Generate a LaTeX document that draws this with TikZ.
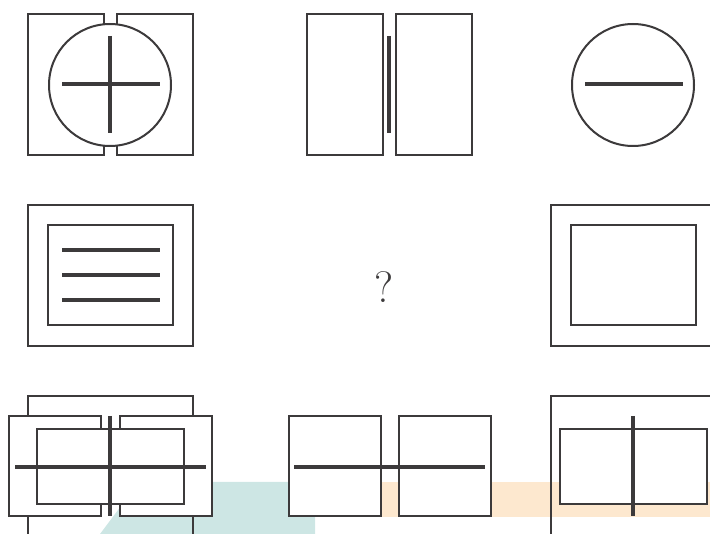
\documentclass[tikz,border=0pt]{standalone}
\usepackage{tikz}
\definecolor{pzline}{HTML}{3C3A3B}
\definecolor{pzteal}{HTML}{CDE6E4}
\definecolor{pzpeach}{HTML}{FDE8CF}

\begin{document}
\begin{tikzpicture}[
  x=1pt, y=-1pt,
  frame/.style={draw=pzline, line width=2pt},
  blank/.style={frame, fill=white},
  bar/.style={draw=pzline, line width=3.2pt},
  query/.style={text=pzline, inner sep=0pt, font=\fontsize{44}{50}\selectfont},
]
\useasboundingbox (0,0) rectangle (710,534);
\clip (0,0) rectangle (710,534);

%% ---- Bandas de fondo ----
\fill[pzteal] (100,534) -- (139,482) -- (315,482) -- (315,534) -- cycle;
\fill[pzpeach] (320,482) rectangle (714,517);

%% ---- Fila 1 ----
\draw[frame] (28,14) rectangle (104,155);
\draw[frame] (117,14) rectangle (193,155);
\draw[blank] (110,85) circle (61pt);
\draw[bar] (62,84) -- (160,84);
\draw[bar] (110,36) -- (110,133);

\draw[frame] (307,14) rectangle (383,155);
\draw[frame] (396,14) rectangle (472,155);
\draw[bar] (389,36) -- (389,133);

\draw[blank] (633,85) circle (61pt);
\draw[bar] (585,84) -- (683,84);

%% ---- Fila 2 ----
\draw[frame] (28,205) rectangle (193,346);
\draw[frame] (48,225) rectangle (173,325);
\foreach \y in {250,275,300}
  \draw[bar] (62,\y) -- (160,\y);

\node[query] (q) at (384,287) {?};

\draw[frame] (551,205) rectangle (716,346);
\draw[frame] (571,225) rectangle (696,325);

%% ---- Fila 3 ----
\draw[frame] (28,396) rectangle (193,540);
\draw[blank] (9,416) rectangle (101,516);
\draw[blank] (120,416) rectangle (212,516);
\draw[blank] (37,429) rectangle (184,504);
\draw[bar] (15,467) -- (206,467);
\draw[bar] (110,416) -- (110,516);

\draw[blank] (289,416) rectangle (381,516);
\draw[blank] (399,416) rectangle (491,516);
\draw[bar] (294,467) -- (485,467);

\draw[frame] (551,396) rectangle (716,540);
\draw[blank] (560,429) rectangle (707,504);
\draw[bar] (633,416) -- (633,516);

\end{tikzpicture}
\end{document}
